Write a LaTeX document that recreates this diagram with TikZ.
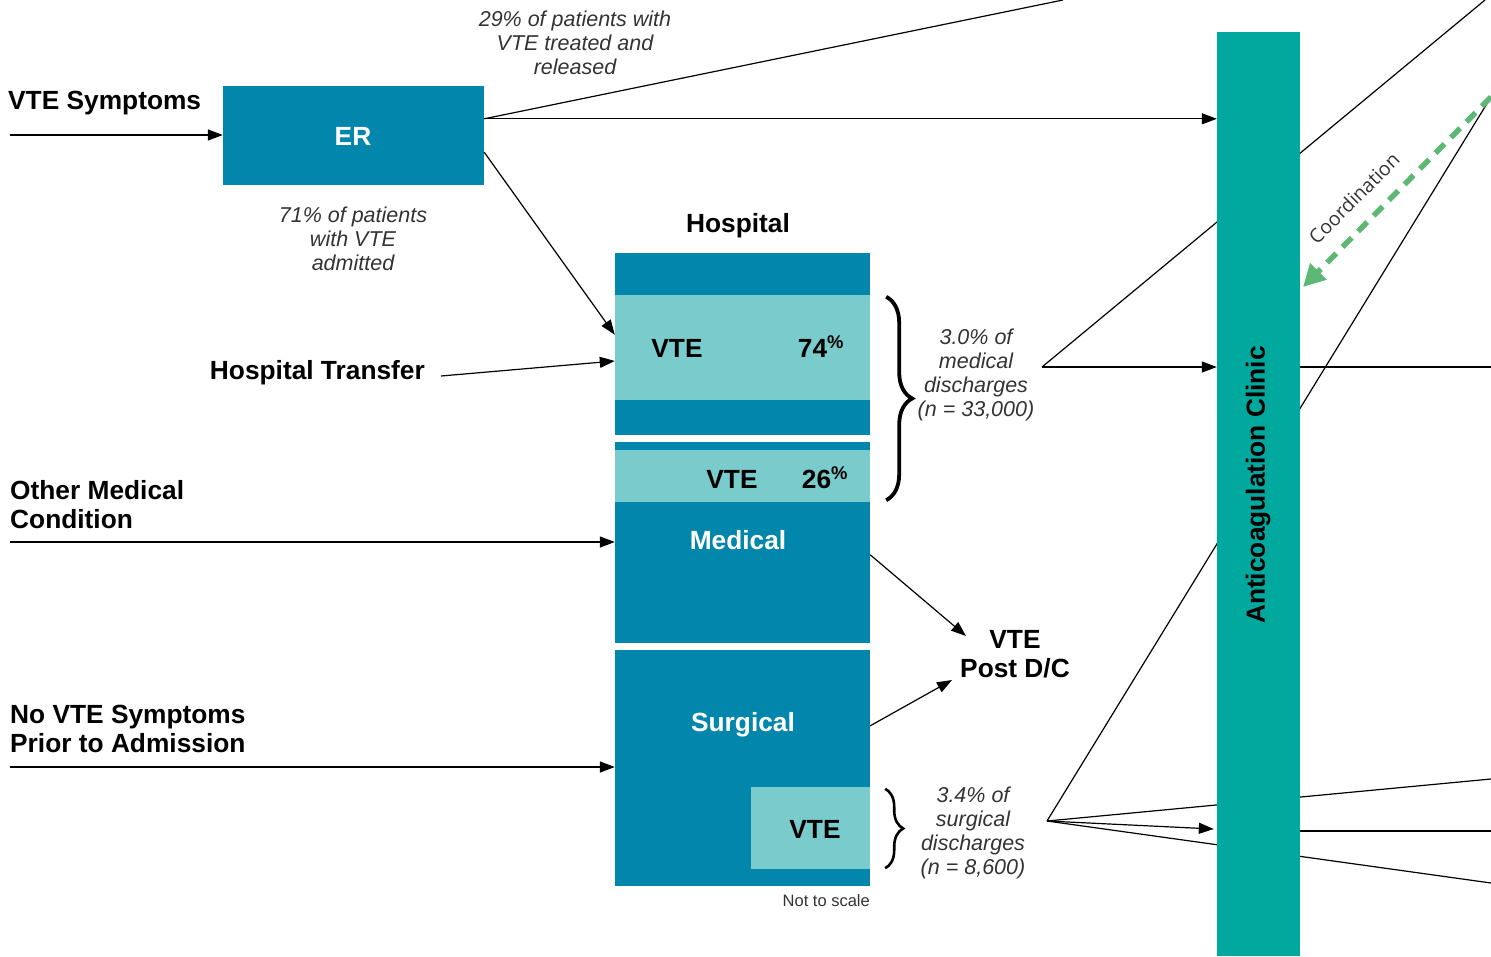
\documentclass[tikz,border=0pt]{standalone}
\usepackage{fontspec}
\setmainfont{Liberation Sans}
\newfontfamily\coordfont{Open Sans}
\usetikzlibrary{arrows.meta,calc,decorations.pathreplacing}
\definecolor{hdark}{HTML}{0386AC}
\definecolor{hlight}{HTML}{7ACCCC}
\definecolor{clinicc}{HTML}{00A89E}
\definecolor{coordg}{HTML}{5CB874}
\definecolor{notegray}{HTML}{333333}
\pgfdeclarelayer{bg}
\pgfsetlayers{bg,main}
\tikzset{
  darkbox/.style={fill=hdark, draw=none, inner sep=0pt},
  lightbox/.style={fill=hlight, draw=none, inner sep=0pt},
  boldtxt/.style={font=\bfseries\fontsize{26.3}{29}\selectfont, inner sep=0pt},
  whitetxt/.style={boldtxt, text=white},
  lbl/.style={boldtxt, align=left},
  note/.style={font=\itshape\fontsize{21.5}{23.8}\selectfont, text=notegray, align=center, inner sep=0pt},
  ln/.style={line width=1.2pt},
  arr/.style={line width=1.2pt, -{Triangle[length=15pt,width=11pt]}},
  bigbrace/.style={decorate, decoration={brace, amplitude=26pt}, line width=3.8pt},
  smallbrace/.style={decorate, decoration={brace, amplitude=18pt}, line width=2.6pt},
  coordarrow/.style={draw=coordg, line width=5.5pt, dash pattern=on 13pt off 9pt, -{Triangle[length=22pt,width=22pt]}, shorten >=0pt}
}
\begin{document}
\begin{tikzpicture}[x=1pt,y=-1pt]
\useasboundingbox (0,0) rectangle (1491,956);

% ER
\node[darkbox, minimum width=261pt, minimum height=99pt] (er) at (353.5,135.5) {};
\node[whitetxt] (ertxt) at (353,136) {ER};
\node[lbl, anchor=west] (vtesym) at (8,103) {VTE Symptoms};
\node[note] (t29) at (575,43) {29\% of patients with\\VTE treated and\\released};
\node[note] (t71) at (353,239) {71\% of patients\\with VTE\\admitted};

% Hospital stack
\node[boldtxt] (hosp) at (738,226) {Hospital};
\node[darkbox, minimum width=255pt, minimum height=42pt] (hosptop) at (742.5,274) {};
\node[lightbox, minimum width=255pt, minimum height=105pt] (vte1) at (742.5,347.5) {};
\node[darkbox, minimum width=255pt, minimum height=35pt] (hospmid) at (742.5,417.5) {};
\node[darkbox, minimum width=255pt, minimum height=8pt] (hospthin) at (742.5,446) {};
\node[lightbox, minimum width=255pt, minimum height=52pt] (vte2) at (742.5,476) {};
\node[darkbox, minimum width=255pt, minimum height=141pt] (medical) at (742.5,572.5) {};
\node[darkbox, minimum width=255pt, minimum height=236pt] (surgical) at (742.5,768) {};
\node[lightbox, minimum width=119pt, minimum height=82pt] (vte3) at (810.5,828) {};
\node[boldtxt] (vte1a) at (677,348) {VTE};
\node[boldtxt] (vte1b) at (821,347) {74\textsuperscript{\%}};
\node[boldtxt] (vte2a) at (732,479) {VTE};
\node[boldtxt] (vte2b) at (825,478) {26\textsuperscript{\%}};
\node[whitetxt] (medtxt) at (738,540) {Medical};
\node[whitetxt] (surgtxt) at (743,725) {Surgical};
\node[boldtxt] (vte3a) at (815,829) {VTE};
\node[font=\fontsize{16.5}{18}\selectfont, text=notegray, anchor=east, inner sep=0pt] (nts) at (870,901) {Not to scale};

% Left labels
\node[lbl, anchor=east] (ht) at (425,373) {Hospital Transfer};
\node[lbl, anchor=west] (omc) at (10,504.5) {Other Medical\\Condition};
\node[lbl, anchor=west] (nvs) at (10,728.5) {No VTE Symptoms\\Prior to Admission};

% Post D/C
\node[boldtxt, align=center] (post) at (1015,654) {VTE\\Post D/C};
\coordinate (postA) at ($(post.center)+(-49,-18)$);
\coordinate (postB) at ($(post.center)+(-63,26)$);

% notes on right
\node[note] (t30) at (976,375) {3.0\% of\\medical\\discharges\\(n = 33,000)};
\node[note] (t34) at (973,833) {3.4\% of\\surgical\\discharges\\(n = 8,600)};
\coordinate (f1) at (1042,367);
\coordinate (f2) at (1047,821);

% edge coordinates
\coordinate (topA) at (1063,0);
\coordinate (topB) at (1485,0);
\coordinate (gstart) at (1491,97);
\coordinate (rA) at (1491,367);
\coordinate (rB) at (1491,779);
\coordinate (rC) at (1491,831);
\coordinate (rD) at (1491,883);

% lines behind the clinic
\begin{pgfonlayer}{bg}
\draw[ln] (f1) -- (topB);
\draw[ln] (f2) -- (gstart);
\draw[ln] (f2) -- (rB);
\draw[ln] (f2) -- (rD);
\end{pgfonlayer}

% clinic
\node[fill=clinicc, draw=none, inner sep=0pt, minimum width=83pt, minimum height=924pt] (clinic) at (1258.5,494) {};
\node[boldtxt, rotate=90] (clab) at (1258,485) {Anticoagulation Clinic};

% connectors
\coordinate (s1) at (10,135);
\draw[arr] (s1) -- (s1 -| er.west);
\coordinate (erA) at ($(er.north east)+(0,33)$);
\draw[arr] (erA) -- (erA -| clinic.west);
\draw[ln] (erA) -- (topA);
\draw[arr] ($(er.south east)+(0,-33)$) -- ($(vte1.north west)+(0,40)$);
\draw[arr] ($(ht.east)+(16,3)$) -- ($(vte1.west)+(0,13.5)$);
\coordinate (om) at (10,542);
\draw[arr] (om) -- (om -| medical.west);
\coordinate (nv) at (10,767);
\draw[arr] (nv) -- (nv -| surgical.west);
\draw[arr] ($(medical.north east)+(0,53)$) -- (postA);
\draw[arr] ($(surgical.north east)+(0,76)$) -- (postB);

\draw[bigbrace] ($(vte1.north east)+(16,2)$) -- ($(vte2.south east)+(16,-2)$);
\draw[smallbrace] ($(vte3.north east)+(15,2)$) -- ($(vte3.south east)+(15,-1)$);

\draw[arr] (f1) -- (f1 -| clinic.west);
\draw[ln] (f1 -| clinic.east) -- (rA);
\draw[arr] (f2) -- ($(clinic.west |- 0,829)+(-3,0)$);
\draw[ln] (rC -| clinic.east) -- (rC);

% coordination
\coordinate (gend) at (1303,287);
\draw[coordarrow] (gstart) -- (gend);
\node[font=\coordfont\fontsize{19.5}{22}\selectfont, text=notegray, rotate=45, inner sep=0pt] (coordtxt) at (1354,198) {Coordination};
\end{tikzpicture}
\end{document}
